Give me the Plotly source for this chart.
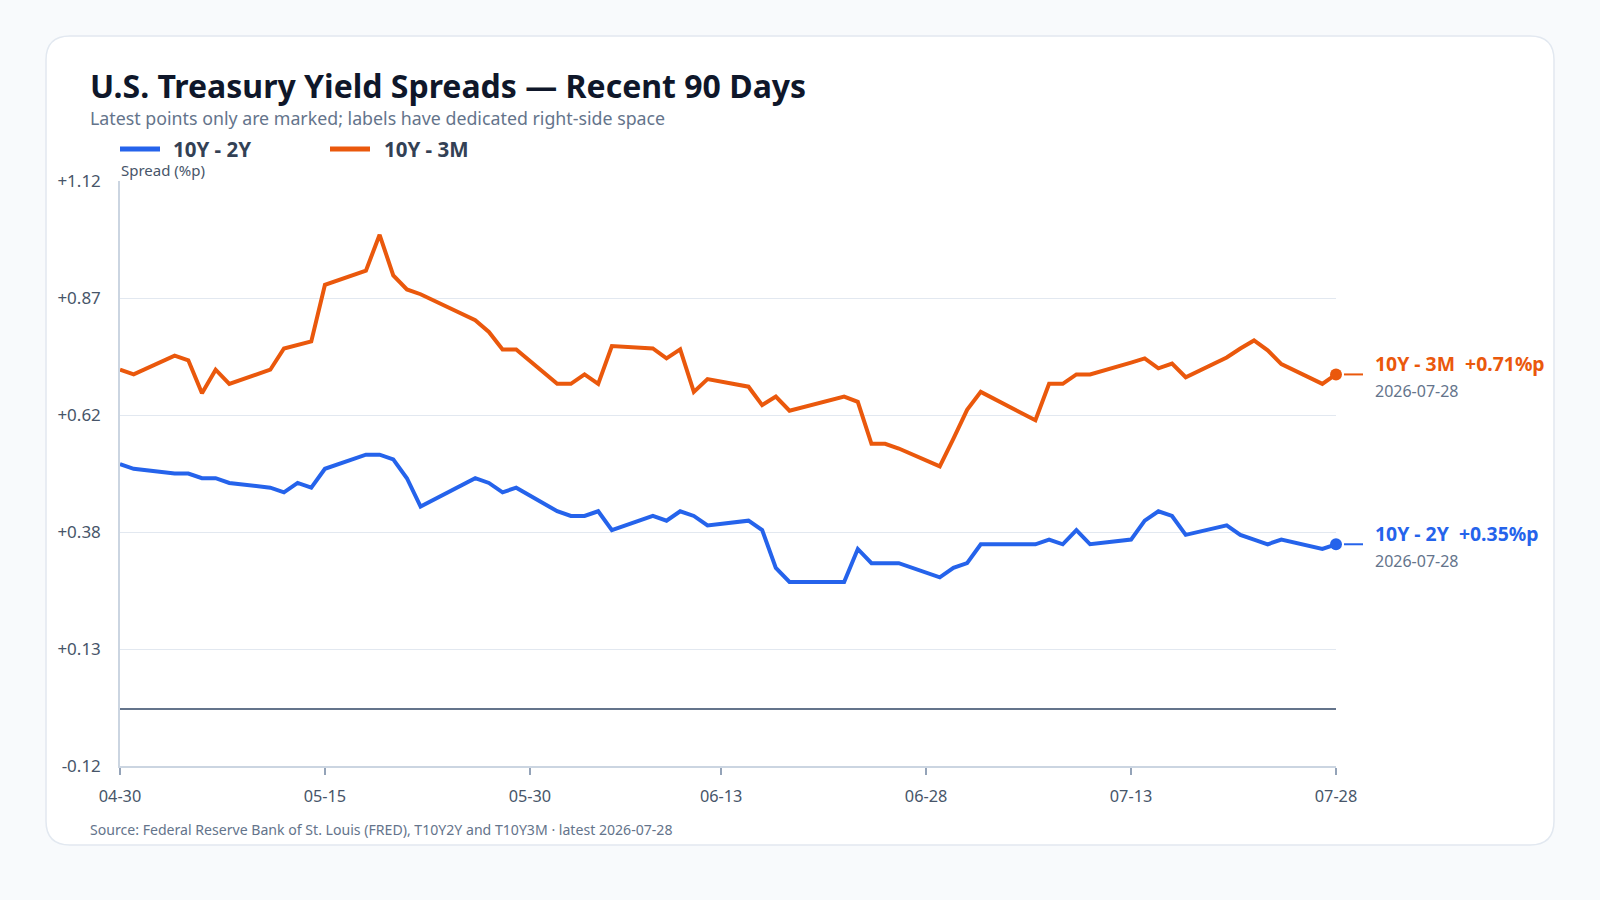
import numpy as np
import plotly.graph_objects as go

# ---------------- data ----------------
dates = [
    "2026-04-30", "2026-05-01",
    "2026-05-04", "2026-05-05", "2026-05-06", "2026-05-07", "2026-05-08",
    "2026-05-11", "2026-05-12", "2026-05-13", "2026-05-14", "2026-05-15",
    "2026-05-18", "2026-05-19", "2026-05-20", "2026-05-21", "2026-05-22",
    "2026-05-26", "2026-05-27", "2026-05-28", "2026-05-29",
    "2026-06-01", "2026-06-02", "2026-06-03", "2026-06-04", "2026-06-05",
    "2026-06-08", "2026-06-09", "2026-06-10", "2026-06-11", "2026-06-12",
    "2026-06-15", "2026-06-16", "2026-06-17", "2026-06-18",
    "2026-06-22", "2026-06-23", "2026-06-24", "2026-06-25", "2026-06-26",
    "2026-06-29", "2026-06-30", "2026-07-01", "2026-07-02",
    "2026-07-06", "2026-07-07", "2026-07-08", "2026-07-09", "2026-07-10",
    "2026-07-13", "2026-07-14", "2026-07-15", "2026-07-16", "2026-07-17",
    "2026-07-20", "2026-07-21", "2026-07-22", "2026-07-23", "2026-07-24",
    "2026-07-27", "2026-07-28",
]

spread_10y2y = [
    0.52, 0.51,
    0.50, 0.50, 0.49, 0.49, 0.48,
    0.47, 0.46, 0.48, 0.47, 0.51,
    0.54, 0.54, 0.53, 0.49, 0.43,
    0.49, 0.48, 0.46, 0.47,
    0.42, 0.41, 0.41, 0.42, 0.38,
    0.41, 0.40, 0.42, 0.41, 0.39,
    0.40, 0.38, 0.30, 0.27,
    0.27, 0.34, 0.31, 0.31, 0.31,
    0.28, 0.30, 0.31, 0.35,
    0.35, 0.36, 0.35, 0.38, 0.35,
    0.36, 0.40, 0.42, 0.41, 0.37,
    0.39, 0.37, 0.36, 0.35, 0.36,
    0.34, 0.35,
]

spread_10y3m = [
    0.72, 0.71,
    0.75, 0.74, 0.67, 0.72, 0.69,
    0.72, 0.765, 0.772, 0.78, 0.90,
    0.93, 1.006, 0.92, 0.89, 0.88,
    0.825, 0.80, 0.763, 0.763,
    0.69, 0.69, 0.71, 0.69, 0.77,
    0.765, 0.744, 0.763, 0.673, 0.70,
    0.684, 0.645, 0.663, 0.633,
    0.663, 0.652, 0.563, 0.563, 0.553,
    0.515, 0.574, 0.635, 0.673,
    0.613, 0.69, 0.69, 0.71, 0.71,
    0.735, 0.744, 0.723, 0.733, 0.704,
    0.746, 0.765, 0.782, 0.761, 0.732,
    0.69, 0.71,
]

series_names = ["10Y - 2Y", "10Y - 3M"]
series_colors = ["#2563eb", "#ea580c"]

x_tick_dates = ["2026-04-30", "2026-05-15", "2026-05-30", "2026-06-13",
                "2026-06-28", "2026-07-13", "2026-07-28"]
y_min, y_max = -0.12, 1.12
y_ticks = list(np.linspace(y_min, y_max, 6))
y_tick_text = [f"{v:+.2f}" for v in y_ticks]

title = "U.S. Treasury Yield Spreads — Recent 90 Days"
subtitle = "Latest points only are marked; labels have dedicated right-side space"
footer = "Source: Federal Reserve Bank of St. Louis (FRED), T10Y2Y and T10Y3M · latest 2026-07-28"
y_title = "Spread (%p)"

# ---------------- layout geometry ----------------
FIG_W, FIG_H = 1600, 900
L, R, T, B = 120, 1336, 181, 766
PW, PH = R - L, B - T

def px2x(px):
    return (px - L) / PW

def py2y(py):
    return (B - py) / PH

FONT = "Noto Sans"

fig = go.Figure()

all_series = [spread_10y2y, spread_10y3m]
for name, vals, col in zip(series_names, all_series, series_colors):
    fig.add_trace(go.Scatter(
        x=dates, y=vals, mode="lines", name=name,
        line=dict(color=col, width=4), hoverinfo="x+y",
        showlegend=False,
    ))
for name, vals, col in zip(series_names, all_series, series_colors):
    fig.add_trace(go.Scatter(
        x=[dates[-1]], y=[vals[-1]], mode="markers", name=name + " latest",
        marker=dict(color=col, size=12), cliponaxis=False, showlegend=False,
    ))

shapes = []
annotations = []

# card
x0, x1 = px2x(46), px2x(1554)
yt, yb = py2y(36), py2y(845)
r = 24
rx, ry = r / PW, r / PH
card_path = (
    f"M {x0+rx},{yt} L {x1-rx},{yt} Q {x1},{yt} {x1},{yt-ry} "
    f"L {x1},{yb+ry} Q {x1},{yb} {x1-rx},{yb} "
    f"L {x0+rx},{yb} Q {x0},{yb} {x0},{yb+ry} "
    f"L {x0},{yt-ry} Q {x0},{yt} {x0+rx},{yt} Z"
)
shapes.append(dict(type="path", path=card_path, xref="paper", yref="paper",
                   fillcolor="#ffffff", line=dict(color="#e2e8f0", width=1.5),
                   layer="below"))

def ann(text, px, py, size, color, bold=False, xanchor="left"):
    annotations.append(dict(
        text=text, x=px2x(px), y=py2y(py), xref="paper", yref="paper",
        xanchor=xanchor, yanchor="middle", showarrow=False,
        font=dict(family=FONT, size=size, color=color,
                  weight="bold" if bold else "normal"),
    ))

ann(title, 88, 86, 32, "#0f172a", bold=True)
ann(subtitle, 88, 118, 17.8, "#64748b")
ann(footer, 88, 829, 14.1, "#64748b")
ann(y_title, 119, 170, 15, "#475569")

# custom legend
leg_x = [(120, 160, 171), (330, 370, 382)]
for (lx0, lx1, tx), name, col in zip(leg_x, series_names, series_colors):
    shapes.append(dict(type="line", xref="paper", yref="paper",
                       x0=px2x(lx0), x1=px2x(lx1), y0=py2y(149), y1=py2y(149),
                       line=dict(color=col, width=5)))
    ann(name, tx, 149, 20.5, "#334155", bold=True)

# end labels
for name, vals, col in zip(series_names, all_series, series_colors):
    last = vals[-1]
    shapes.append(dict(type="line", xref="paper", yref="y",
                       x0=px2x(1344), x1=px2x(1363), y0=last, y1=last,
                       line=dict(color=col, width=2)))
    annotations.append(dict(
        text=f"<b>{name}\u00a0\u00a0{last:+.2f}%p</b>", x=dates[-1], y=last,
        xref="x", yref="y", xanchor="left", yanchor="middle",
        xshift=37, yshift=11, showarrow=False,
        font=dict(family=FONT, size=19.4, color=col),
    ))
    annotations.append(dict(
        text=dates[-1], x=dates[-1], y=last,
        xref="x", yref="y", xanchor="left", yanchor="middle",
        xshift=37, yshift=-17, showarrow=False,
        font=dict(family=FONT, size=16, color="#64748b"),
    ))

fig.update_layout(
    width=FIG_W, height=FIG_H, autosize=False,
    margin=dict(l=L, r=FIG_W - R, t=T, b=FIG_H - B, pad=0),
    paper_bgcolor="#f8fafc", plot_bgcolor="rgba(0,0,0,0)",
    font=dict(family=FONT, color="#475569"),
    showlegend=False,
    shapes=shapes, annotations=annotations,
    xaxis=dict(
        type="date", range=[dates[0], dates[-1]],
        tickvals=x_tick_dates, tickformat="%m-%d",
        showgrid=False, zeroline=False,
        showline=True, linecolor="#cbd5e1", linewidth=1.5,
        ticks="outside", ticklen=7, tickwidth=1.5, tickcolor="#94a3b8",
        tickfont=dict(size=16.3, color="#475569"),
        ticklabelstandoff=8,
    ),
    yaxis=dict(
        range=[y_min, y_max], tickvals=y_ticks, ticktext=y_tick_text,
        showgrid=True, gridcolor="#e2e8f0", gridwidth=1,
        zeroline=True, zerolinecolor="#64748b", zerolinewidth=2,
        showline=True, linecolor="#cbd5e1", linewidth=1.5,
        ticks="", tickfont=dict(size=17, color="#475569"),
        ticklabelstandoff=14,
    ),
)

fig.write_html("out.html")
